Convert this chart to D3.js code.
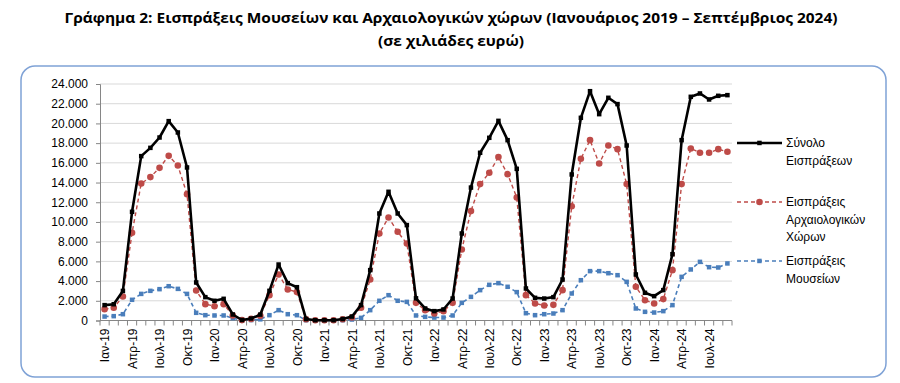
<!DOCTYPE html>
<html><head><meta charset="utf-8">
<script src="https://cdn.jsdelivr.net/npm/d3@7"></script>
<style>
body{margin:0;background:#fff;}
svg{display:block;font-family:"Liberation Sans",Arial,sans-serif;}
</style></head><body>
<svg id="c" width="900" height="383"></svg>
<script>
const months = ["Ιαν-19","Φεβ-19","Μαρ-19","Απρ-19","Μαϊ-19","Ιουν-19","Ιουλ-19","Αυγ-19","Σεπ-19","Οκτ-19","Νοε-19","Δεκ-19",
"Ιαν-20","Φεβ-20","Μαρ-20","Απρ-20","Μαϊ-20","Ιουν-20","Ιουλ-20","Αυγ-20","Σεπ-20","Οκτ-20","Νοε-20","Δεκ-20",
"Ιαν-21","Φεβ-21","Μαρ-21","Απρ-21","Μαϊ-21","Ιουν-21","Ιουλ-21","Αυγ-21","Σεπ-21","Οκτ-21","Νοε-21","Δεκ-21",
"Ιαν-22","Φεβ-22","Μαρ-22","Απρ-22","Μαϊ-22","Ιουν-22","Ιουλ-22","Αυγ-22","Σεπ-22","Οκτ-22","Νοε-22","Δεκ-22",
"Ιαν-23","Φεβ-23","Μαρ-23","Απρ-23","Μαϊ-23","Ιουν-23","Ιουλ-23","Αυγ-23","Σεπ-23","Οκτ-23","Νοε-23","Δεκ-23",
"Ιαν-24","Φεβ-24","Μαρ-24","Απρ-24","Μαϊ-24","Ιουν-24","Ιουλ-24","Αυγ-24","Σεπ-24"];
const tickLabels = ["Ιαν-19","Απρ-19","Ιουλ-19","Οκτ-19","Ιαν-20","Απρ-20","Ιουλ-20","Οκτ-20","Ιαν-21","Απρ-21","Ιουλ-21","Οκτ-21",
"Ιαν-22","Απρ-22","Ιουλ-22","Οκτ-22","Ιαν-23","Απρ-23","Ιουλ-23","Οκτ-23","Ιαν-24","Απρ-24","Ιουλ-24"];
const yTicks = [0,2000,4000,6000,8000,10000,12000,14000,16000,18000,20000,22000,24000];
const total = [1560,1650,3000,11030,16680,17520,18570,20230,19080,15530,3860,2370,
2000,2200,610,50,200,600,3010,5680,3790,3380,150,30,
30,30,150,400,1560,5110,10860,13060,10860,9680,2250,1220,
950,1120,2230,8830,13490,17020,18540,20260,18300,15390,3250,2300,
2230,2370,4160,14820,20570,23270,20940,22600,21960,17760,4670,2810,
2470,3080,6730,18300,22700,23040,22430,22800,22870];
const arch = [1150,1290,2440,8900,13900,14550,15490,16710,15730,12820,3040,1660,
1450,1660,510,40,160,480,2570,4670,3150,2880,120,25,
25,25,120,300,1290,4160,8830,10450,9000,7810,1790,1050,
710,950,1790,7200,11100,13840,14990,16580,14850,12480,2570,1730,
1520,1590,3080,11600,16410,18300,15930,17760,17390,13840,3420,2060,
1730,2170,5110,13840,17460,17020,17020,17390,17120];
const mus = [400,440,640,2100,2700,3010,3180,3480,3210,2700,780,540,
510,510,240,10,40,120,540,1050,640,540,30,5,
5,5,30,100,270,1050,2000,2570,2000,1890,510,370,
300,300,510,1790,2400,3080,3620,3790,3420,2880,740,540,
640,710,1050,2740,4090,5010,5010,4800,4600,3920,1220,880,
810,950,1560,4430,5180,5950,5410,5380,5790];
const seriesNames = [["Σύνολο","Εισπράξεων"],["Εισπράξεις","Αρχαιολογικών","Χώρων"],["Εισπράξεις","Μουσείων"]];

const svg = d3.select("#c");
const L=100,R=732,T=84,B=320.5;
const x = d3.scalePoint().domain(months).range([L,R]).padding(0.5);
const xb = d3.scaleBand().domain(months).range([L,R]);
const y = d3.scaleLinear().domain([0,24000]).range([B,T]);
const loc = d3.formatLocale({decimal:",",thousands:".",grouping:[3],currency:["","€"]});
const fmt = loc.format(",d");

// frame
svg.append("rect").attr("x",21).attr("y",66).attr("width",865).attr("height",311)
  .attr("rx",14).attr("fill","none").attr("stroke","#7fa2d6").attr("stroke-width",1.5);

// title
svg.append("text").attr("x",451).attr("y",23).attr("text-anchor","middle")
  .attr("font-family","'Open Sans',sans-serif").attr("font-weight","bold").attr("font-size",14.5)
  .attr("textLength",773).attr("lengthAdjust","spacingAndGlyphs").attr("fill","#000")
  .text("Γράφημα 2: Εισπράξεις Μουσείων και Αρχαιολογικών χώρων (Ιανουάριος 2019 – Σεπτέμβριος 2024)");
svg.append("text").attr("x",451).attr("y",46).attr("text-anchor","middle")
  .attr("font-family","'Open Sans',sans-serif").attr("font-weight","bold").attr("font-size",14.5)
  .attr("textLength",146).attr("lengthAdjust","spacingAndGlyphs").attr("fill","#000")
  .text("(σε χιλιάδες ευρώ)");

// gridlines
svg.append("g").selectAll("line").data(yTicks.filter(d=>d>0)).join("line")
  .attr("x1",L).attr("x2",R).attr("y1",d=>y(d)).attr("y2",d=>y(d))
  .attr("stroke","#d9d9d9").attr("stroke-width",1);

// y axis
const ya = svg.append("g").attr("transform",`translate(${L},0)`)
  .call(d3.axisLeft(y).tickValues(yTicks).tickFormat(fmt).tickSize(4).tickPadding(8));
ya.select(".domain").attr("stroke","#868686");
ya.selectAll(".tick line").attr("stroke","#868686");
ya.selectAll("text").attr("font-size",12).attr("fill","#000").attr("font-family","'Liberation Sans',Arial,sans-serif");

// x axis line + ticks between categories
svg.append("line").attr("x1",L).attr("x2",R).attr("y1",y(0)).attr("y2",y(0)).attr("stroke","#868686");
svg.append("g").selectAll("line").data(months).join("line")
  .attr("x1",d=>xb(d)+xb.bandwidth()).attr("x2",d=>xb(d)+xb.bandwidth())
  .attr("y1",y(0)).attr("y2",y(0)+5).attr("stroke","#868686");
svg.append("line").attr("x1",L).attr("x2",L).attr("y1",y(0)).attr("y2",y(0)+5).attr("stroke","#868686");

const xa = svg.append("g").attr("transform",`translate(0,${y(0)})`)
  .call(d3.axisBottom(x).tickValues(tickLabels).tickSize(0).tickPadding(0));
xa.select(".domain").remove();
xa.selectAll("text").attr("font-size",12).attr("fill","#000")
  .attr("font-family","'Liberation Sans',Arial,sans-serif")
  .attr("transform","rotate(-90)").attr("text-anchor","end")
  .attr("x",-8).attr("y",0).attr("dy","0.35em");

// series
const line = d3.line().x((d,i)=>x(months[i])).y(d=>y(d));
function drawSeries(data,color,width,dash,marker,msize){
  const g = svg.append("g");
  g.append("path").datum(data).attr("d",line).attr("fill","none").attr("stroke",color)
    .attr("stroke-width",width).attr("stroke-dasharray",dash).attr("stroke-linejoin","round");
  if(marker==="circle"){
    g.selectAll("circle").data(data).join("circle").attr("cx",(d,i)=>x(months[i])).attr("cy",d=>y(d))
      .attr("r",msize).attr("fill",color);
  } else {
    g.selectAll("rect").data(data).join("rect").attr("x",(d,i)=>x(months[i])-msize/2).attr("y",d=>y(d)-msize/2)
      .attr("width",msize).attr("height",msize).attr("fill",color);
  }
}
drawSeries(mus,"#4a7ebb",1.6,"4,3","square",4.5);
drawSeries(arch,"#be4b48",1.4,"4,3","circle",3.3);
drawSeries(total,"#000",2.6,null,"square",4.5);

// legend
const leg = [
  {c:"#000",w:2.6,d:null,m:"square",y:143,names:seriesNames[0]},
  {c:"#be4b48",w:1.4,d:"4,3",m:"circle",y:202,names:seriesNames[1]},
  {c:"#4a7ebb",w:1.6,d:"4,3",m:"square",y:261,names:seriesNames[2]}
];
leg.forEach(l=>{
  const g=svg.append("g");
  g.append("line").attr("x1",737).attr("x2",782).attr("y1",l.y).attr("y2",l.y)
   .attr("stroke",l.c).attr("stroke-width",l.w).attr("stroke-dasharray",l.d);
  if(l.m==="circle") g.append("circle").attr("cx",759.5).attr("cy",l.y).attr("r",3.3).attr("fill",l.c);
  else g.append("rect").attr("x",757.2).attr("y",l.y-2.3).attr("width",4.5).attr("height",4.5).attr("fill",l.c);
  l.names.forEach((n,k)=>{
    g.append("text").attr("x",786).attr("y",l.y+k*17.5).attr("dy","0.35em")
     .attr("font-size",12).attr("fill","#000").text(n);
  });
});
</script></body></html>
